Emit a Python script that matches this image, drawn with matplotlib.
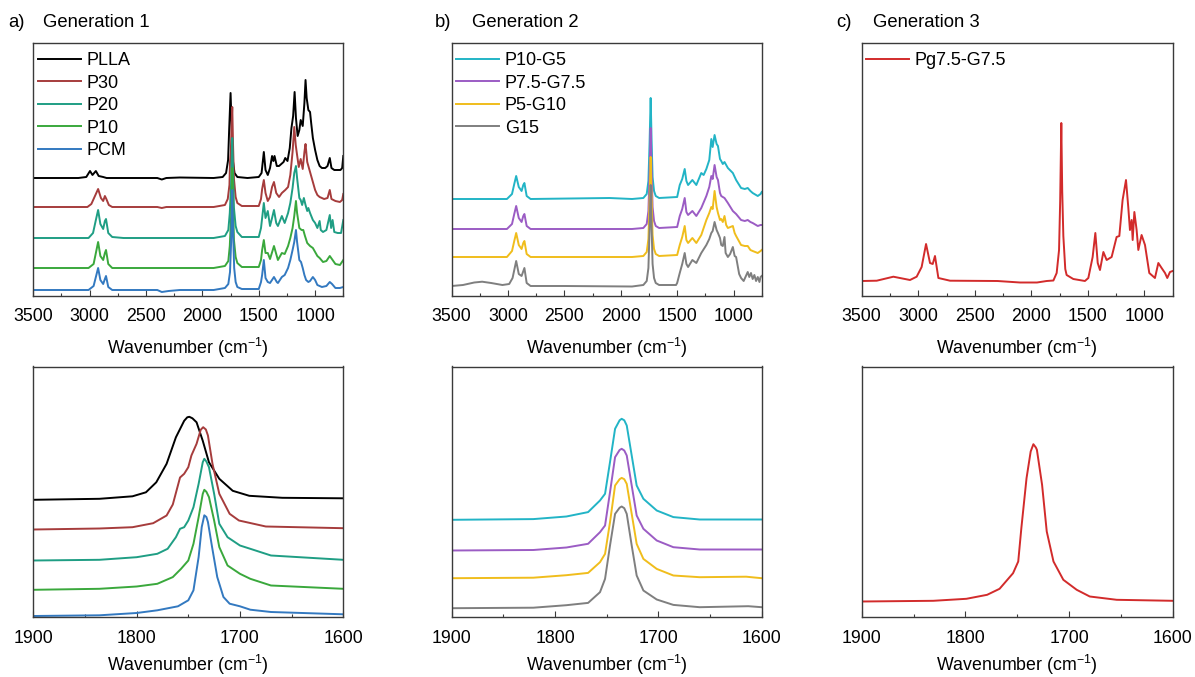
import numpy as np
import matplotlib.pyplot as plt
from matplotlib.ticker import MultipleLocator

plt.rcParams['font.family'] = ['Liberation Sans', 'DejaVu Sans']
plt.rcParams['mathtext.default'] = 'regular'

# Espectros completos: (numero de onda, intensidade acima da propria linha de base)
# Geracao 1
pla_full = [(3500, 0), (3100, 0), (3030, 1), (2997, 7), (2975, 3), (2945, 7), (2920, 2), (2880, 1),
            (2850, 0), (2400, 0), (2360, -1.5), (2320, 0), (2200, 0.5), (1900, 0), (1820, 1), (1790, 5),
            (1772, 18), (1762, 50), (1750, 85), (1740, 50), (1730, 18), (1715, 5), (1690, 1), (1600, 0),
            (1500, 1), (1475, 5), (1455, 26), (1440, 8), (1420, 3), (1400, 10), (1382, 22), (1370, 17),
            (1360, 22), (1340, 12), (1320, 12), (1300, 14), (1280, 16), (1265, 20), (1245, 17), (1225, 30),
            (1210, 50), (1195, 62), (1182, 86), (1170, 60), (1155, 42), (1140, 48), (1128, 58), (1110, 52),
            (1095, 75), (1085, 98), (1075, 80), (1060, 68), (1045, 66), (1035, 55), (1020, 40), (1000, 28),
            (980, 18), (960, 12), (940, 10), (910, 10), (890, 12), (870, 20), (855, 10), (830, 8), (800, 8),
            (775, 8), (760, 10), (750, 22)]
p30_full = [(3500, 0), (3020, 0), (2985, 3), (2945, 13), (2925, 18), (2900, 9), (2880, 6), (2865, 11),
            (2852, 8), (2830, 2), (2800, 0), (2400, 0), (2360, -1), (2320, 0), (1900, 0), (1800, 2),
            (1775, 8), (1760, 22), (1755, 45), (1748, 55), (1740, 85), (1735, 100), (1728, 62), (1720, 28),
            (1705, 10), (1690, 4), (1650, 1), (1500, 1), (1480, 8), (1470, 18), (1455, 27), (1440, 14),
            (1420, 6), (1400, 10), (1382, 20), (1365, 25), (1345, 14), (1320, 10), (1295, 14), (1265, 17),
            (1240, 20), (1220, 32), (1200, 55), (1185, 80), (1172, 62), (1160, 52), (1145, 40), (1128, 48),
            (1110, 38), (1095, 55), (1085, 63), (1070, 45), (1045, 35), (1020, 25), (1000, 17), (980, 12),
            (960, 10), (920, 8), (890, 9), (870, 17), (855, 8), (820, 6), (780, 5), (760, 7), (750, 13)]
p20_full = [(3500, 0), (3010, 0), (2970, 5), (2945, 18), (2925, 28), (2905, 14), (2880, 9), (2865, 17),
            (2855, 19), (2835, 5), (2800, 1), (2700, 0), (1900, 0), (1800, 2), (1770, 8), (1757, 25),
            (1745, 55), (1735, 100), (1727, 60), (1720, 30), (1705, 12), (1690, 6), (1650, 1), (1500, 1),
            (1480, 10), (1470, 20), (1455, 35), (1440, 20), (1420, 27), (1400, 12), (1382, 20), (1365, 28),
            (1345, 15), (1330, 12), (1295, 22), (1270, 15), (1240, 25), (1220, 35), (1200, 50), (1185, 65),
            (1170, 72), (1160, 60), (1140, 40), (1128, 38), (1115, 33), (1100, 40), (1085, 33), (1070, 27),
            (1060, 30), (1045, 25), (1020, 18), (1000, 15), (980, 10), (960, 17), (950, 8), (930, 6),
            (900, 8), (870, 23), (858, 10), (845, 18), (830, 6), (800, 5), (770, 5), (750, 18)]
p10_full = [(3500, 0), (3010, 0), (2965, 4), (2945, 15), (2925, 26), (2905, 12), (2880, 8), (2865, 15),
            (2855, 18), (2835, 4), (2800, 0), (1900, 0), (1800, 2), (1770, 7), (1757, 22), (1745, 52),
            (1735, 100), (1727, 58), (1720, 28), (1705, 11), (1690, 5), (1650, 1), (1500, 1), (1480, 8),
            (1470, 18), (1455, 28), (1440, 15), (1420, 15), (1400, 9), (1365, 22), (1340, 12), (1330, 8),
            (1295, 15), (1270, 14), (1240, 22), (1220, 30), (1200, 40), (1185, 52), (1170, 67), (1160, 55),
            (1140, 40), (1120, 38), (1105, 38), (1090, 32), (1070, 25), (1045, 22), (1020, 20), (1000, 16),
            (980, 12), (960, 10), (930, 6), (900, 7), (870, 12), (845, 8), (820, 4), (780, 3), (750, 8)]
pcm_full = [(3500, 0), (3010, 0), (2965, 4), (2945, 13), (2925, 22), (2905, 10), (2880, 6), (2865, 11),
            (2855, 14), (2835, 3), (2800, 0), (2400, 0), (2360, -2), (2300, -1), (2200, 0), (1900, 0),
            (1800, 2), (1770, 6), (1755, 18), (1745, 48), (1735, 100), (1727, 55), (1718, 22), (1705, 8),
            (1690, 3), (1650, 1), (1500, 1), (1480, 8), (1470, 15), (1455, 30), (1440, 12), (1420, 8),
            (1400, 7), (1365, 13), (1340, 8), (1330, 7), (1295, 13), (1270, 15), (1240, 22), (1220, 30),
            (1200, 40), (1185, 48), (1170, 60), (1160, 48), (1140, 30), (1125, 28), (1110, 22), (1095, 15),
            (1080, 10), (1060, 8), (1045, 9), (1020, 13), (1000, 10), (980, 5), (960, 4), (940, 3),
            (900, 4), (870, 8), (850, 6), (820, 2), (780, 2), (750, 3)]

# Geracao 2
g2a_full = [(3500, 0), (3010, 0), (2965, 5), (2945, 15), (2928, 23), (2905, 12), (2880, 8), (2865, 14),
            (2855, 16), (2835, 3), (2800, 0), (2100, 1), (1900, 0), (1800, 1), (1770, 5), (1755, 18),
            (1745, 55), (1735, 101), (1727, 60), (1718, 22), (1705, 8), (1690, 3), (1660, 1), (1500, 2),
            (1477, 14), (1455, 20), (1433, 30), (1418, 18), (1403, 14), (1365, 19), (1330, 14), (1286, 26),
            (1265, 24), (1241, 30), (1215, 39), (1197, 60), (1185, 52), (1168, 64), (1150, 55), (1138, 53),
            (1120, 40), (1109, 38), (1095, 35), (1080, 37), (1050, 31), (1006, 26), (977, 19), (933, 11),
            (900, 10), (874, 11), (850, 8), (830, 6), (785, 3), (760, 5), (750, 7)]
g2b_full = [(3500, 0), (3010, 0), (2965, 5), (2945, 15), (2928, 23), (2905, 11), (2880, 7), (2865, 13),
            (2855, 15), (2835, 3), (2800, 0), (1900, 0), (1800, 1), (1770, 5), (1755, 18), (1745, 55),
            (1735, 101), (1727, 60), (1718, 22), (1705, 8), (1690, 3), (1660, 1), (1500, 2), (1477, 13),
            (1455, 20), (1433, 31), (1418, 17), (1403, 14), (1365, 18), (1330, 13), (1286, 21), (1241, 33),
            (1215, 42), (1197, 53), (1185, 50), (1168, 64), (1150, 52), (1138, 49), (1120, 36), (1109, 33),
            (1095, 32), (1080, 31), (1050, 26), (1006, 18), (977, 15), (933, 9), (900, 8), (874, 9),
            (850, 7), (830, 6), (785, 3), (760, 4), (750, 4)]
g2c_full = [(3500, 0), (3010, 0), (2965, 6), (2945, 16), (2928, 24), (2905, 12), (2880, 8), (2865, 14),
            (2855, 16), (2835, 3), (2800, 0), (1900, 0), (1800, 1), (1770, 5), (1755, 18), (1745, 55),
            (1735, 100), (1727, 60), (1718, 22), (1705, 8), (1690, 3), (1660, 1), (1500, 2), (1477, 12),
            (1455, 20), (1433, 31), (1418, 17), (1403, 14), (1365, 19), (1330, 14), (1286, 22), (1241, 37),
            (1215, 44), (1197, 50), (1185, 48), (1168, 66), (1150, 50), (1138, 44), (1120, 37), (1109, 38),
            (1095, 35), (1080, 41), (1065, 32), (1050, 29), (1006, 31), (990, 24), (977, 21), (933, 12),
            (900, 11), (874, 11), (850, 7), (830, 6), (785, 4), (760, 6), (750, 7)]
g2d_full = [(3500, 0), (3400, 1), (3300, 3.5), (3230, 4.3), (3150, 3), (3050, 1), (2990, 2), (2960, 8),
            (2928, 25), (2905, 12), (2880, 10), (2855, 18), (2835, 3), (2800, 0), (2500, 0), (1900, -0.5),
            (1800, 1), (1770, 5), (1755, 18), (1745, 55), (1735, 101), (1727, 60), (1718, 22), (1705, 8),
            (1690, 3), (1660, 1), (1510, 1), (1500, 3), (1477, 13), (1455, 22), (1433, 33), (1418, 22),
            (1403, 19), (1365, 26), (1330, 23), (1286, 33), (1241, 41), (1215, 47), (1197, 53), (1185, 55),
            (1168, 64), (1150, 56), (1138, 53), (1120, 48), (1109, 41), (1095, 40), (1080, 49), (1070, 33),
            (1050, 29), (1030, 32), (1006, 39), (990, 30), (977, 29), (950, 12), (933, 8), (910, 5),
            (890, 10), (874, 14), (860, 9), (845, 13), (830, 7), (815, 11), (800, 5), (785, 9), (770, 4),
            (760, 9), (750, 10)]

# Geracao 3
g3_full = [(3500, 0), (3367, 0.3), (3220, 4.3), (3073, 1), (3014, 4.3), (2970, 14), (2931, 37),
           (2896, 18), (2872, 17), (2852, 25), (2822, 3), (2719, 0.3), (2300, 0), (2100, -1.5),
           (1950, -1.5), (1864, 0), (1805, 0.5), (1776, 8), (1755, 31), (1745, 80), (1735, 158),
           (1727, 90), (1717, 45), (1700, 12), (1688, 6), (1629, 2), (1526, 0), (1496, 3), (1458, 24),
           (1434, 48), (1413, 18), (1393, 11), (1363, 29), (1334, 21), (1290, 24), (1246, 44), (1222, 45),
           (1193, 81), (1163, 101), (1143, 74), (1128, 51), (1113, 61), (1104, 41), (1089, 69),
           (1069, 51), (1054, 31), (1025, 46), (995, 36), (957, 8), (907, 3), (877, 18), (848, 13),
           (818, 8), (798, 3), (774, 9), (750, 10)]

# Regiao da carbonila (1900-1600)
pla_zoom = [(1900, 0), (1836, 1), (1804, 3.5), (1791, 7.5), (1781, 17.5), (1771, 36), (1762, 62.5),
            (1754, 79), (1751, 82.5), (1749, 83), (1746, 81.5), (1742, 77.5), (1736, 59), (1730, 37.5),
            (1720, 21), (1707, 9), (1691, 4), (1659, 2), (1600, 1.5)]
p30_zoom = [(1900, 0), (1836, 1), (1804, 2.3), (1784, 6.3), (1771, 14), (1765, 25), (1758, 52),
            (1754, 55.7), (1750, 62.3), (1747, 74), (1742, 85.7), (1738, 99.7), (1735.6, 102.3),
            (1733, 100), (1731, 94), (1726.6, 65.7), (1720, 35.7), (1710, 15.7), (1701, 9), (1675, 3),
            (1600, 1.3)]
p20_zoom = [(1900, 0), (1836, 0.7), (1800, 3.3), (1780, 6.7), (1770, 11.7), (1762, 23.3), (1758, 31.7),
            (1754, 33.3), (1750, 40), (1745, 53.3), (1740, 76.7), (1736, 98.3), (1734.5, 101.7),
            (1732.5, 99), (1730, 93.3), (1725, 66.7), (1720, 36.7), (1712, 23.3), (1700, 15), (1690, 11.7),
            (1670, 5), (1600, 0.7)]
p10_zoom = [(1900, 0), (1836, 1), (1800, 3.3), (1780, 6), (1765, 12.7), (1757, 21), (1750, 29.3),
            (1745, 46), (1740, 72.7), (1736, 96), (1734.5, 100), (1732.5, 98), (1730, 92.7), (1725, 69.3),
            (1720, 42.7), (1712, 24.3), (1700, 16), (1690, 11), (1670, 4.3), (1600, 1)]
pcm_zoom = [(1900, 0), (1836, 0.7), (1800, 3), (1780, 5.7), (1760, 9.7), (1750, 15.7), (1745, 25.7),
            (1740, 59), (1737, 89), (1734.5, 100.7), (1732.5, 99), (1731, 94), (1727, 69), (1722, 39),
            (1716, 19), (1710, 12.3), (1700, 9.7), (1690, 6.3), (1670, 4), (1600, 1.7)]
g2a_zoom = [(1900, 0), (1821, 0.7), (1789, 3.3), (1768, 7.7), (1756.5, 19.3), (1751.6, 26),
            (1746.8, 57.7), (1741.9, 91), (1737.5, 99.5), (1735.5, 101), (1733, 99.5), (1730.6, 94.3),
            (1725.8, 64.3), (1721, 34.3), (1714.5, 21), (1701.6, 9.3), (1685.5, 2.7), (1660, 0.3),
            (1600, 0.3)]
g2b_zoom = [(1900, 0), (1821, 0.5), (1789, 3), (1768, 6.7), (1756.5, 18.3), (1751.6, 25),
            (1746.8, 58.3), (1741.9, 93.3), (1737.5, 100.5), (1735.5, 101.7), (1733, 100), (1730.6, 95),
            (1725.8, 65), (1721, 35), (1714.5, 21.7), (1701.6, 10), (1685.5, 3.3), (1660, 1), (1600, 1)]
g2c_zoom = [(1900, 0), (1821, 0.5), (1789, 3), (1768, 5.3), (1756.5, 16), (1751.6, 24.3),
            (1746.8, 56), (1741.9, 92.7), (1737.5, 99), (1735.5, 100.3), (1733, 99), (1730.6, 94.3),
            (1725.8, 64.3), (1721, 34.3), (1714.5, 19.3), (1701.6, 9.3), (1685.5, 2.7), (1660, 1),
            (1615, 1.5), (1600, 0)]
g2d_zoom = [(1900, 0), (1821, 0.5), (1789, 3), (1768, 5.3), (1756.5, 16), (1751.6, 29.3),
            (1746.8, 62.7), (1741.9, 94.3), (1737.5, 100.5), (1735.5, 101.7), (1733, 100), (1730.6, 94.3),
            (1725.8, 62.7), (1721, 32.7), (1714.5, 17.7), (1701.6, 8.7), (1685.5, 3.3), (1660, 1),
            (1613, 2), (1600, 1)]
g3_zoom = [(1900, 0), (1831, 0.7), (1799, 2.7), (1779, 6.7), (1767, 12.7), (1754, 28.3), (1749, 40),
           (1746, 73.3), (1741, 123.3), (1737, 150), (1734.4, 157.3), (1732, 154), (1731, 151.7),
           (1726, 116.7), (1721.5, 70), (1715, 40), (1705.5, 21.7), (1692.6, 11.7), (1680, 5),
           (1654, 1.7), (1600, 0.7)]

# Nomes, cores e deslocamentos verticais de cada serie
gen1_names = ["PLLA", "P30", "P20", "P10", "PCM"]
gen1_colors = ["#000000", "#A63C3C", "#1F9E84", "#3AA83C", "#3379C0"]
gen1_full = [pla_full, p30_full, p20_full, p10_full, pcm_full]
gen1_zoom = [pla_zoom, p30_zoom, p20_zoom, p10_zoom, pcm_zoom]
gen1_off_full = [118, 89, 58, 28, 6]
gen1_off_zoom = [116.7, 87, 56, 26.7, 0.5]

gen2_names = ["P10-G5", "P7.5-G7.5", "P5-G10", "G15"]
gen2_colors = ["#22B4C6", "#9B5CC4", "#F0BD1C", "#7F7F7F"]
gen2_full = [g2a_full, g2b_full, g2c_full, g2d_full]
gen2_zoom = [g2a_zoom, g2b_zoom, g2c_zoom, g2d_zoom]
gen2_off_full = [97, 67, 39, 10]
gen2_off_zoom = [96.7, 66, 38.3, 8.3]

gen3_names = ["Pg7.5-G7.5"]
gen3_colors = ["#D22B2B"]
gen3_full = [g3_full]
gen3_zoom = [g3_zoom]
gen3_off_full = [15]
gen3_off_zoom = [15]

W, H = 1195, 677
fig = plt.figure(figsize=(W / 100, H / 100), dpi=100)

lefts = [33.3, 451.7, 861.7]
widths = [310, 310, 311]
XLABEL = "Wavenumber (cm$^{-1}$)"


def estilo_eixo(ax, full):
    for s in ax.spines.values():
        s.set_color("#3a3a3a")
        s.set_linewidth(1.0)
    ax.set_yticks([])
    if full:
        ax.set_xlim(3500, 750)
        ax.set_ylim(0, 253)
        ax.xaxis.set_major_locator(MultipleLocator(500))
        ax.xaxis.set_minor_locator(MultipleLocator(250))
        pad, lpad = 8.5, 8
    else:
        ax.set_xlim(1900, 1600)
        ax.set_ylim(0, 250)
        ax.xaxis.set_major_locator(MultipleLocator(100))
        ax.xaxis.set_minor_locator(MultipleLocator(50))
        pad, lpad = 9.5, 4.5
    ax.tick_params(axis="x", which="major", direction="in", length=4, width=0.8,
                   color="#3a3a3a", labelsize=12.8, pad=pad)
    ax.tick_params(axis="x", which="minor", direction="in", length=2.5, width=0.8, color="#3a3a3a")
    ax.set_xlabel(XLABEL, fontsize=12.8, labelpad=lpad)


def plotar(ax, curvas, offsets, cores, nomes=None):
    for i, (curva, off, cor) in enumerate(zip(curvas, offsets, cores)):
        arr = np.array(curva, dtype=float)
        label = nomes[i] if nomes else None
        ax.plot(arr[:, 0], arr[:, 1] + off, color=cor, lw=1.4, label=label)


painel = [
    (gen1_full, gen1_zoom, gen1_off_full, gen1_off_zoom, gen1_colors, gen1_names),
    (gen2_full, gen2_zoom, gen2_off_full, gen2_off_zoom, gen2_colors, gen2_names),
    (gen3_full, gen3_zoom, gen3_off_full, gen3_off_zoom, gen3_colors, gen3_names),
]

for k, (full, zoom, off_f, off_z, cores, nomes) in enumerate(painel):
    # painel de cima: espectro completo
    ax1 = fig.add_axes([lefts[k] / W, 1 - 296 / H, widths[k] / W, 253 / H])
    plotar(ax1, full, off_f, cores, nomes)
    estilo_eixo(ax1, True)
    ax1.legend(loc="upper left", frameon=False, fontsize=13, handlelength=2.4,
               handletextpad=0.3, labelspacing=0.3, borderpad=0.3, borderaxespad=0.15,
               bbox_to_anchor=(-0.012, 0.995))

    # painel de baixo: regiao da carbonila
    ax2 = fig.add_axes([lefts[k] / W, 1 - 616.5 / H, widths[k] / W, 250 / H])
    plotar(ax2, zoom, off_z, cores)
    estilo_eixo(ax2, False)

# Titulos dos paineis
titulos = [("a)", 8, "Generation 1", 43), ("b)", 435, "Generation 2", 472), ("c)", 836, "Generation 3", 873)]
for letra, xl, texto, xt in titulos:
    fig.text(xl / W, 1 - 27 / H, letra, fontsize=13.3, va="baseline", ha="left")
    fig.text(xt / W, 1 - 27 / H, texto, fontsize=13.3, va="baseline", ha="left")

plt.savefig("out.png", dpi=100)
plt.close()
